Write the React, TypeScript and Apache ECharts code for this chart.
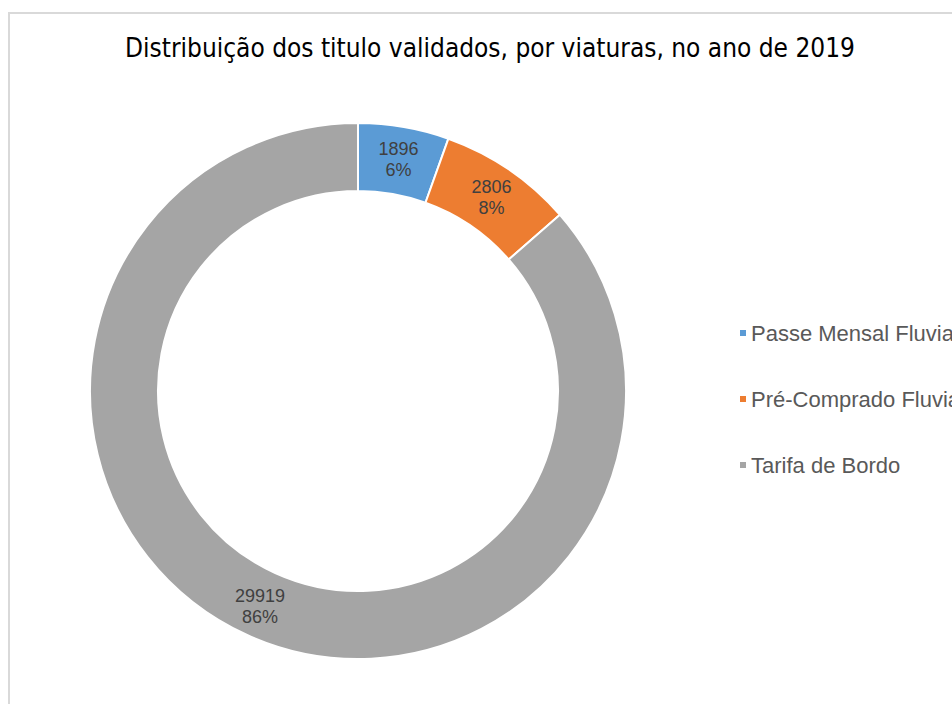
import React, { useEffect, useRef } from "react";
import * as echarts from "echarts";

const titleText = "Distribuição dos titulo validados, por viaturas, no ano de 2019";
const categories = ["Passe Mensal Fluvial", "Pré-Comprado Fluvial", "Tarifa de Bordo"];
const values = [1896, 2806, 29919];
const colors = ["#5B9BD5", "#ED7D31", "#A5A5A5"];

export default function App() {
  const ref = useRef<HTMLDivElement>(null);
  useEffect(() => {
    if (!ref.current) return;
    const chart = echarts.init(ref.current, undefined, { renderer: "svg" });
    chart.setOption({
      animation: false,
      backgroundColor: "#ffffff",
      color: colors,
      title: {
        text: titleText,
        left: 485,
        top: 30,
        textAlign: "center",
        textStyle: {
          fontFamily: "'Liberation Sans Narrow', 'DejaVu Sans Condensed', sans-serif",
          fontSize: 26,
          fontWeight: "normal",
          color: "#000000",
        },
      },
      legend: {
        orient: "vertical",
        left: 733,
        top: 317,
        itemWidth: 8,
        itemHeight: 8,
        itemGap: 44,
        icon: "rect",
        data: categories,
        textStyle: {
          fontFamily: "'Liberation Sans', Arial, sans-serif",
          fontSize: 22,
          lineHeight: 22,
          color: "#595959",
          padding: [0, 0, 0, -1],
        },
      },
      graphic: [
        {
          type: "rect",
          shape: { x: 9, y: 13, width: 3000, height: 3000 },
          style: { fill: "none", stroke: "#d9d9d9", lineWidth: 2 },
          silent: true,
          z: -10,
        },
      ],
      series: [
        {
          type: "pie",
          center: [358, 391],
          radius: [200, 268],
          startAngle: 90,
          clockwise: true,
          percentPrecision: 0,
          avoidLabelOverlap: false,
          itemStyle: { borderColor: "#ffffff", borderWidth: 2 },
          label: {
            show: true,
            position: "inside",
            formatter: "{c}\n{d}%",
            fontFamily: "'Liberation Sans', Arial, sans-serif",
            fontSize: 18,
            lineHeight: 21,
            color: "#404040",
          },
          labelLine: { show: false },
          emphasis: { disabled: true },
          data: categories.map((name, i) => ({
            name,
            value: values[i],
            label: i < 2 ? { offset: [0, 2] } : undefined,
          })),
        },
      ],
    });
    return () => chart.dispose();
  }, []);
  return (
    <div style={{ position: "fixed", left: 0, top: 0, width: 952, height: 704, overflow: "hidden" }}>
      <div ref={ref} style={{ position: "absolute", left: 0, top: 0, width: 1100, height: 704 }} />
    </div>
  );
}
